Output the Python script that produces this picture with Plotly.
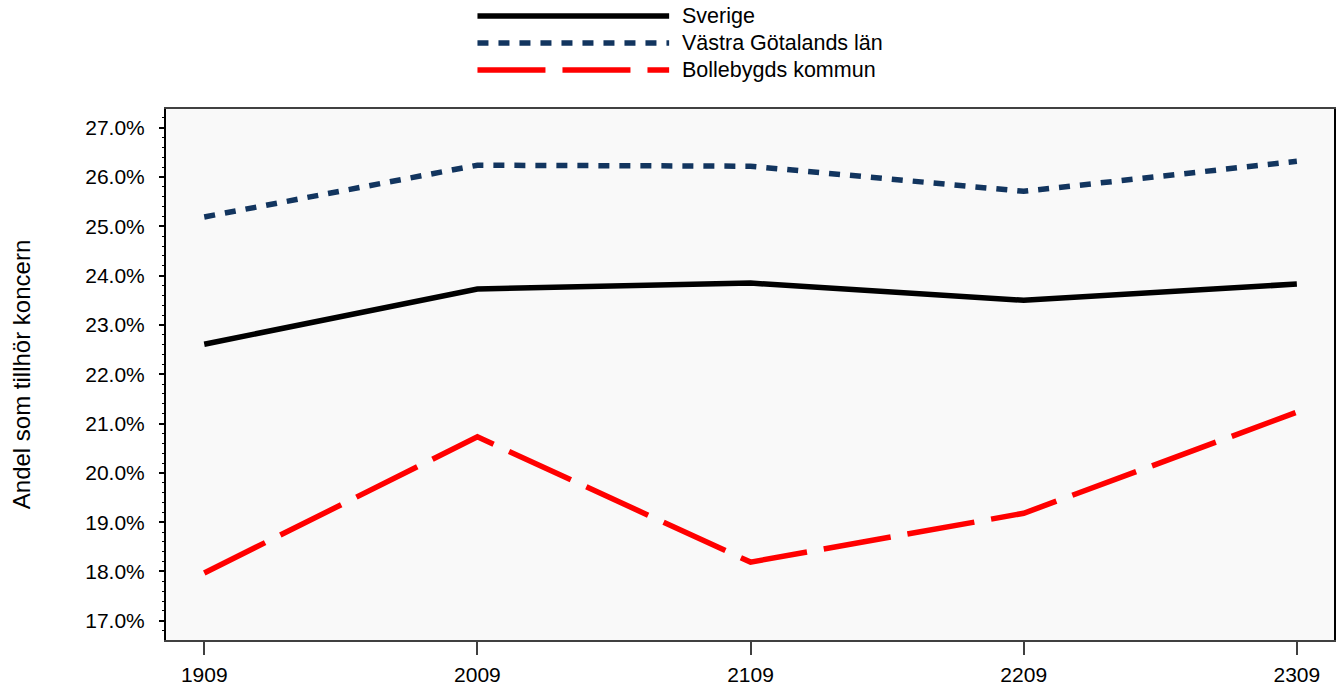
import plotly.graph_objects as go

categories = ["1909", "2009", "2109", "2209", "2309"]
sverige = [22.61, 23.73, 23.85, 23.50, 23.83]
vgl = [25.19, 26.24, 26.22, 25.71, 26.32]
bollebygd = [17.97, 20.73, 18.19, 19.18, 21.23]
series_names = ["Sverige", "Västra Götalands län", "Bollebygds kommun"]
y_ticks = [17, 18, 19, 20, 21, 22, 23, 24, 25, 26, 27]

FONT = "Liberation Sans, Arial, sans-serif"
styles = [
    dict(color="#000000", width=5.5, dash="solid"),
    dict(color="#12355F", width=5.5, dash="11px,10px"),
    dict(color="#FF0000", width=5.5, dash="68px,17px"),
]
values = [sverige, vgl, bollebygd]
xidx = list(range(len(categories)))

# body margin is removed by post_script, so figure coords == page coords
W, H = 1343, 693
L, T = 166, 108.5
PW, PH = 1170, 531.5

fig = go.Figure()
for name, vals, st in zip(series_names, values, styles):
    fig.add_trace(go.Scatter(
        x=xidx, y=vals, mode="lines", name=name,
        line=dict(color=st["color"], width=st["width"], dash=st["dash"]),
        showlegend=False, hoverinfo="x+y+name",
    ))

# Manual legend (long line samples as in the reference)
leg_y = [15.5, 42.5, 69.5]  # page pixel rows
for name, st, py in zip(series_names, styles, leg_y):
    yp = 1 + (T - py) / PH
    fig.add_shape(type="line", xref="paper", yref="paper",
                  x0=(478 - L) / PW, x1=(670 - L) / PW, y0=yp, y1=yp,
                  line=dict(color=st["color"], width=st["width"], dash=st["dash"]))
    fig.add_annotation(xref="paper", yref="paper", x=(683 - L) / PW, y=yp,
                       text=name, showarrow=False, xanchor="left", yanchor="middle",
                       xshift=-2,
                       font=dict(family=FONT, size=21.5, color="#000000"))

fig.update_layout(
    width=W, height=H,
    margin=dict(l=L, r=W - L - PW, t=T, b=H - T - PH),
    paper_bgcolor="#FFFFFF",
    plot_bgcolor="#F9F9F9",
    font=dict(family=FONT, size=21, color="#000000"),
    showlegend=False,
)
fig.update_xaxes(
    tickmode="array", tickvals=xidx, ticktext=categories,
    range=[-0.14, 4.136],
    showgrid=False, zeroline=False,
    showline=True, linecolor="#404040", linewidth=2, mirror=True,
    ticks="outside", ticklen=13, tickwidth=1.5, tickcolor="#404040",
    tickfont=dict(family=FONT, size=21), ticklabelstandoff=2,
)
fig.update_yaxes(
    range=[16.61, 27.38],
    tickmode="array", tickvals=y_ticks,
    ticktext=[f"{v:.1f}%" for v in y_ticks],
    showgrid=False, zeroline=False,
    showline=True, linecolor="#000000", linewidth=2, mirror=True,
    ticks="outside", ticklen=5, tickwidth=1.5, tickcolor="#000000",
    minor=dict(dtick=0.2, ticks="outside", ticklen=2, tickwidth=1, tickcolor="#000000", showgrid=False),
    tickfont=dict(family=FONT, size=21), ticklabelstandoff=10,
    title=dict(text="Andel som tillhör koncern", font=dict(family=FONT, size=24), standoff=48),
)

fig.write_html(
    "out.html",
    config={"displayModeBar": False},
    post_script="document.body.style.margin='0px';document.body.style.overflow='hidden';",
)
